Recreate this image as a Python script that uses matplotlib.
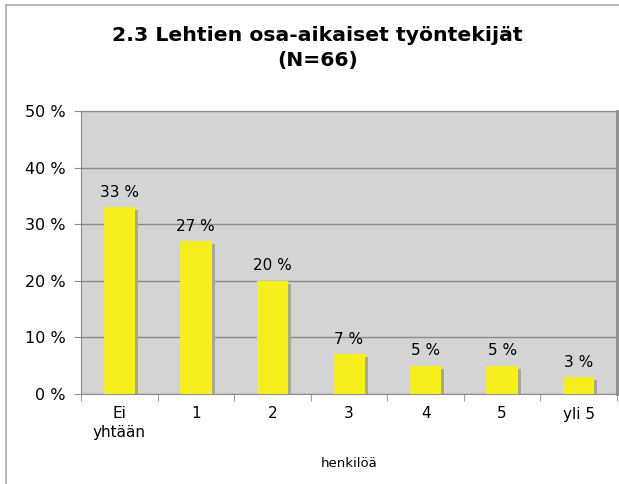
import matplotlib
matplotlib.use('Agg')
import matplotlib.pyplot as plt
import matplotlib.patches as mpatches
import matplotlib.patheffects as pe
import numpy as np

# data
categories = ['Ei\nyhtään', '1', '2', '3', '4', '5', 'yli 5']
values = [33, 27, 20, 7, 5, 5, 3]
yticks = [0, 10, 20, 30, 40, 50]
title = '2.3 Lehtien osa-aikaiset työntekijät\n(N=66)'
xlabel = 'henkilöä'

def main():
    fig = plt.figure(figsize=(6.19, 4.84), dpi=100)
    fig.patch.set_facecolor('white')

    # outer frame (only left/top fall inside the image)
    frame = mpatches.Rectangle((6/619, -0.1), 1.0, 1.1 - 5/484,
                               transform=fig.transFigure, fill=False,
                               edgecolor='#a8a8a8', linewidth=1.2)
    fig.patches.append(frame)

    ax = fig.add_axes([81/619, 90/484, 536/619, 283/484])
    ax.set_facecolor('#d4d4d4')

    x = np.arange(len(categories))
    bars = ax.bar(x, values, width=0.41, color='#f7ef1c', zorder=3)
    for b in bars:
        b.set_path_effects([pe.SimplePatchShadow(offset=(2.2, -2.2), shadow_rgbFace='#a6a6a6', alpha=1),
                            pe.Normal()])

    for xi, v in zip(x, values):
        ax.text(xi, v + 1.3, '%d %%' % v, ha='center', va='bottom', fontsize=11, color='black')

    ax.set_xlim(-0.5, len(categories) - 0.5)
    ax.set_ylim(0, 50)
    ax.set_yticks(yticks)
    ax.set_yticklabels(['%d %%' % t for t in yticks], fontsize=11.5)
    ax.yaxis.grid(True, color='#8a8a8a', linewidth=1, zorder=1)
    ax.set_axisbelow(True)

    ax.set_xticks(x)
    ax.set_xticklabels(categories, fontsize=11, linespacing=1.3)
    ax.tick_params(axis='x', length=0, pad=9)
    ax.set_xticks(np.arange(-0.5, len(categories)), minor=True)
    ax.tick_params(axis='x', which='minor', length=5, color='#8a8a8a')
    ax.tick_params(axis='y', length=5, color='#8a8a8a', pad=6)

    for s in ax.spines.values():
        s.set_color('#8a8a8a')
    ax.spines['right'].set_linewidth(2)

    ax.set_xlabel(xlabel, fontsize=9.5, labelpad=12)
    fig.text(0.513, 1 - 48/484, title, ha='center', va='center', fontsize=14.7,
             fontweight='bold', linespacing=1.4)

    plt.savefig('out.png', dpi=100)

if __name__ == '__main__':
    main()
